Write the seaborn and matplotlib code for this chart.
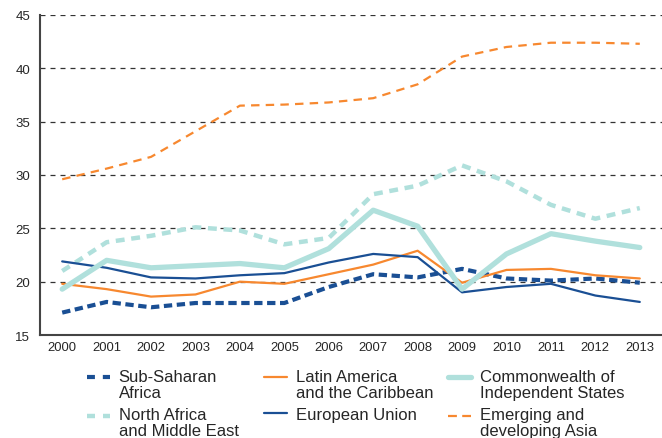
import numpy as np
import pandas as pd
import matplotlib
matplotlib.use("Agg")
import matplotlib.pyplot as plt
from matplotlib.lines import Line2D
from matplotlib.legend_handler import HandlerLine2D
import seaborn as sns

# Data
years = [str(y) for y in range(2000, 2014)]

sub_saharan = [17.1, 18.1, 17.6, 18.0, 18.0, 18.0, 19.5, 20.7, 20.4, 21.2, 20.3, 20.1, 20.3, 19.9]
north_africa = [21.0, 23.7, 24.3, 25.1, 24.8, 23.5, 24.1, 28.2, 29.0, 30.9, 29.4, 27.2, 25.9, 26.9]
latin_america = [19.8, 19.3, 18.6, 18.8, 20.0, 19.8, 20.7, 21.6, 22.9, 19.9, 21.1, 21.2, 20.6, 20.3]
european_union = [21.9, 21.3, 20.4, 20.3, 20.6, 20.8, 21.8, 22.6, 22.3, 19.0, 19.5, 19.8, 18.7, 18.1]
cis = [19.3, 22.0, 21.3, 21.5, 21.7, 21.3, 23.1, 26.7, 25.2, 19.3, 22.6, 24.5, 23.8, 23.2]
emerging_asia = [29.6, 30.6, 31.7, 34.1, 36.5, 36.6, 36.8, 37.2, 38.5, 41.1, 42.0, 42.4, 42.4, 42.3]

series_names = ["Sub-Saharan\nAfrica", "North Africa\nand Middle East",
                "Latin America\nand the Caribbean", "European Union",
                "Commonwealth of\nIndependent States", "Emerging and\ndeveloping Asia"]
series_values = [sub_saharan, north_africa, latin_america, european_union, cis, emerging_asia]

dark_blue = "#1a4f94"
orange = "#f7882f"
teal = "#b0e0dc"

# color, line width, dashes on the plot, dashes in the legend
styles = {
    series_names[0]: (dark_blue, 3.0, (2.0, 1.1), (1.9, 1.9)),
    series_names[1]: (teal, 3.2, (2.0, 1.5), (1.8, 1.8)),
    series_names[2]: (orange, 1.6, None, None),
    series_names[3]: (dark_blue, 1.6, None, None),
    series_names[4]: (teal, 3.8, None, None),
    series_names[5]: (orange, 1.6, (3.8, 2.8), (4.0, 2.4)),
}

df = pd.DataFrame({
    "x": np.tile(np.arange(len(years)), len(series_names)),
    "value": np.concatenate(series_values),
    "series": np.repeat(series_names, len(years)),
})

sns.set_style("white")
plt.rcParams["font.family"] = ["Liberation Sans", "DejaVu Sans"]

fig = plt.figure(figsize=(6.62, 4.39), dpi=100)
ax = fig.add_axes([0.0604, 0.2346, 0.9396, 0.729])

for yv in range(20, 46, 5):
    ax.axhline(yv, color="#333333", lw=0.9, ls=(0, (4, 4)), zorder=1)

for name in series_names:
    color, lw, dashes, _ = styles[name]
    sub = df[df["series"] == name]
    sns.lineplot(data=sub, x="x", y="value", ax=ax, color=color, lw=lw,
                 legend=False, zorder=3)
    if dashes:
        ax.lines[-1].set_dashes(dashes)

ax.set_xlim(-0.5, len(years) - 0.5)
ax.set_ylim(15, 45)
ax.set_yticks(range(15, 46, 5))
ax.set_xticks(np.arange(len(years)))
ax.set_xticklabels(years)
ax.set_xticks(np.arange(-0.5, len(years), 1), minor=True)
ax.tick_params(axis="x", which="major", length=0, labelsize=9.4, pad=4)
ax.tick_params(axis="x", which="minor", length=5, width=1, color="#444444", direction="out")
ax.tick_params(axis="y", length=5, width=1, color="#444444", direction="out", labelsize=9.5, pad=2)
ax.set_xlabel("")
ax.set_ylabel("")

for s in ["top", "right"]:
    ax.spines[s].set_visible(False)
for s in ["left", "bottom"]:
    ax.spines[s].set_color("#444444")
    ax.spines[s].set_linewidth(1.5)


# two-line labels: handle sits next to the first text line, not the middle
class TopHandler(HandlerLine2D):
    def create_artists(self, legend, orig_handle, xdescent, ydescent,
                       width, height, fontsize, trans):
        arts = super().create_artists(legend, orig_handle, xdescent, ydescent,
                                      width, height, fontsize, trans)
        if getattr(orig_handle, "two_lines", False):
            for a in arts:
                a.set_ydata(np.asarray(a.get_ydata()) + 0.42 * fontsize)
        return arts


def proxy(name):
    color, lw, _, ldash = styles[name]
    h = Line2D([], [], color=color, lw=lw)
    if ldash:
        h.set_dashes(ldash)
    h.two_lines = "\n" in name
    return h


legend_x = [87, 264, 448]
for i, lx in enumerate(legend_x):
    names = series_names[2 * i:2 * i + 2]
    leg = fig.legend([proxy(n) for n in names], names, loc="upper left",
                     bbox_to_anchor=(lx / 662, 1 - 370 / 439),
                     bbox_transform=fig.transFigure, frameon=False,
                     borderpad=0, borderaxespad=0, fontsize=12,
                     handlelength=1.4, handletextpad=0.5, labelspacing=0.45,
                     handler_map={Line2D: TopHandler()})
    for t in leg.get_texts():
        t.set_linespacing(1.05)

fig.savefig("out.png", dpi=100)
